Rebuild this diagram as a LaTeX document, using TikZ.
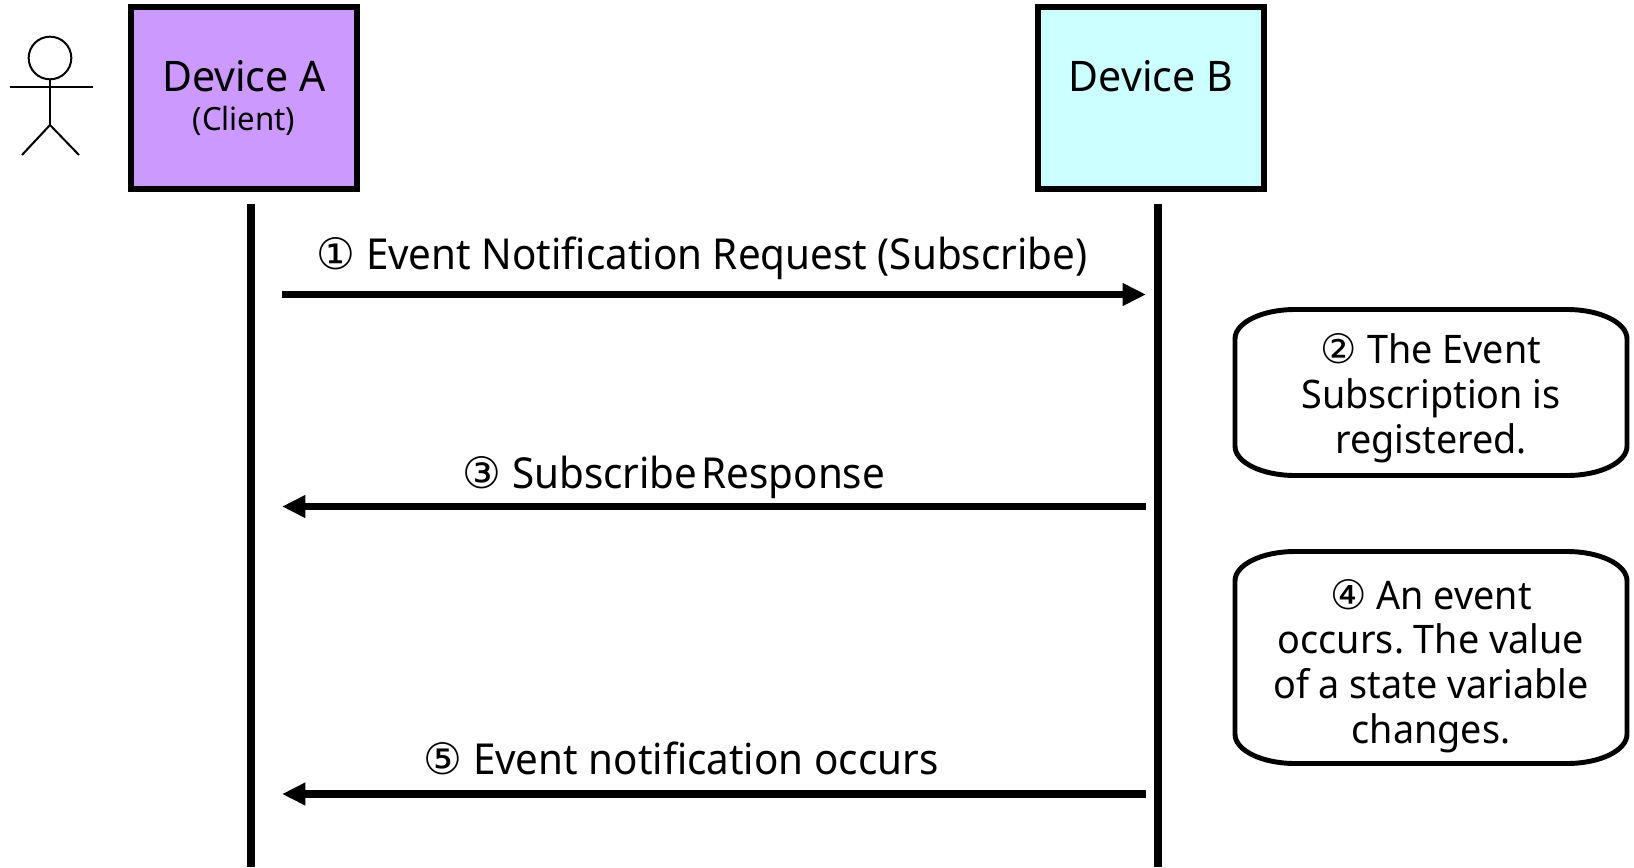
\documentclass[tikz,border=0pt]{standalone}
\usepackage{fontspec}
\setmainfont{Noto Sans}
\newfontfamily\digitfont{DejaVu Sans}
\newfontfamily\labelface[FakeStretch=0.946]{Noto Sans}
\newfontfamily\nameface[FakeStretch=0.975]{Noto Sans}
\newfontfamily\stateface[FakeStretch=0.96]{Noto Sans}
\usetikzlibrary{arrows.meta}
\newcommand{\namesize}{\nameface\fontsize{31.6}{33.75}\selectfont}
\newcommand{\labelsize}{\labelface\fontsize{32}{33.75}\selectfont}
\newcommand{\statesize}{\stateface\fontsize{29.5}{33.6}\selectfont}
\newcommand{\smallsize}{\nameface\fontsize{24}{25}\selectfont}
\newcommand{\circd}[1]{{\digitfont\fontsize{32.5}{33}\selectfont #1}}
\newcommand{\circs}[1]{{\digitfont\fontsize{30.5}{33}\selectfont #1}}
\tikzset{
  devicebox/.style={rectangle,draw=black,line width=4.6pt,inner sep=0pt,minimum width=170pt,minimum height=137pt,anchor=center},
  lifeline/.style={line width=5.4pt,black},
  msgarrow/.style={line width=5.4pt,black,-{Triangle[length=17.5pt,width=16pt]}},
  msglabel/.style={anchor=base,inner sep=0pt,font=\labelsize,text=black},
  devname/.style={anchor=base,inner sep=0pt,font=\namesize,text=black},
  statetext/.style={rectangle,inner sep=0pt,outer sep=0pt,align=center,font=\statesize,text=black,anchor=center},
  statebox/.style={rectangle,inner sep=0pt,outer sep=0pt,anchor=center},
  ovaledge/.style={draw=black,line width=3.7pt,line join=round},
  stick/.style={draw=black,line width=1.5pt}
}
\newcommand{\ovalaround}[1]{%
  \draw[ovaledge] ([xshift=45pt]#1.north west) -- ([xshift=-45pt]#1.north east)
    arc[start angle=90,end angle=0,x radius=45pt,y radius=22pt]
    -- ([yshift=22pt]#1.south east)
    arc[start angle=0,end angle=-90,x radius=45pt,y radius=22pt]
    -- ([xshift=45pt]#1.south west)
    arc[start angle=270,end angle=180,x radius=45pt,y radius=22pt]
    -- ([yshift=-22pt]#1.north west)
    arc[start angle=180,end angle=90,x radius=45pt,y radius=22pt] -- cycle;}
\frenchspacing
\begin{document}
\begin{tikzpicture}[x=0.75pt,y=-0.75pt]
\useasboundingbox (0,0) rectangle (1634,867);
% actor
\node[stick,circle,minimum size=32pt,inner sep=0pt,fill=white] (head) at (50,58) {};
\coordinate (shoulderL) at (10,87.5);
\coordinate (shoulderR) at (93,87.5);
\coordinate (hip) at (50,125);
\coordinate (footL) at (22,155);
\coordinate (footR) at (79,155);
\draw[stick] (shoulderL) -- (shoulderR);
\draw[stick] (head.south) -- (hip);
\draw[stick] (footL) -- (hip) -- (footR);
% devices
\node[devicebox,fill={rgb,255:red,204;green,153;blue,255}] (devA) at (244,98) {};
\node[devicebox,fill={rgb,255:red,204;green,255;blue,255}] (devB) at (1151,98) {};
\node[devname] (devAname) at (244,92) {Device A};
\node[anchor=base,inner sep=0pt,font=\smallsize] (devArole) at (244,130) {(Client)};
\node[devname] (devBname) at (1151,92) {Device B};
% lifelines
\coordinate (laTop) at (251,204);
\coordinate (laBot) at (251,867);
\coordinate (lbTop) at (1158,204);
\coordinate (lbBot) at (1158,867);
\draw[lifeline] (laTop) -- (laBot);
\draw[lifeline] (lbTop) -- (lbBot);
% messages
\coordinate (m1s) at (282,294.5); \coordinate (m1e) at (1146,294.5);
\coordinate (m3s) at (1146,506.5); \coordinate (m3e) at (282,506.5);
\coordinate (m5s) at (1146,794); \coordinate (m5e) at (282,794);
\draw[msgarrow] (m1s) -- (m1e);
\draw[msgarrow] (m3s) -- (m3e);
\draw[msgarrow] (m5s) -- (m5e);
\node[msglabel] (l1) at (702,269) {\circd{①} Event Notification Request (Subscribe)};
\node[msglabel] (l3) at (674,488) {\circd{③} Subscribe\hspace{3pt}Response};
\node[msglabel] (l5) at (681,774) {\circd{⑤} Event notification occurs};
% state boxes
\node[statebox,minimum width=294pt,minimum height=124.5pt] (s2box) at (1431,392.5) {};
\ovalaround{s2box}
\node[statetext] (s2) at (1431,398)
  {\circs{②} The Event\\Subscription is\\registered.};
\node[statebox,minimum width=294pt,minimum height=159pt] (s4box) at (1431,657.5) {};
\ovalaround{s4box}
\node[statetext] (s4) at (1431,666)
  {\circs{④} An event\\occurs. The value\\of a state variable\\changes.};
\end{tikzpicture}
\end{document}
